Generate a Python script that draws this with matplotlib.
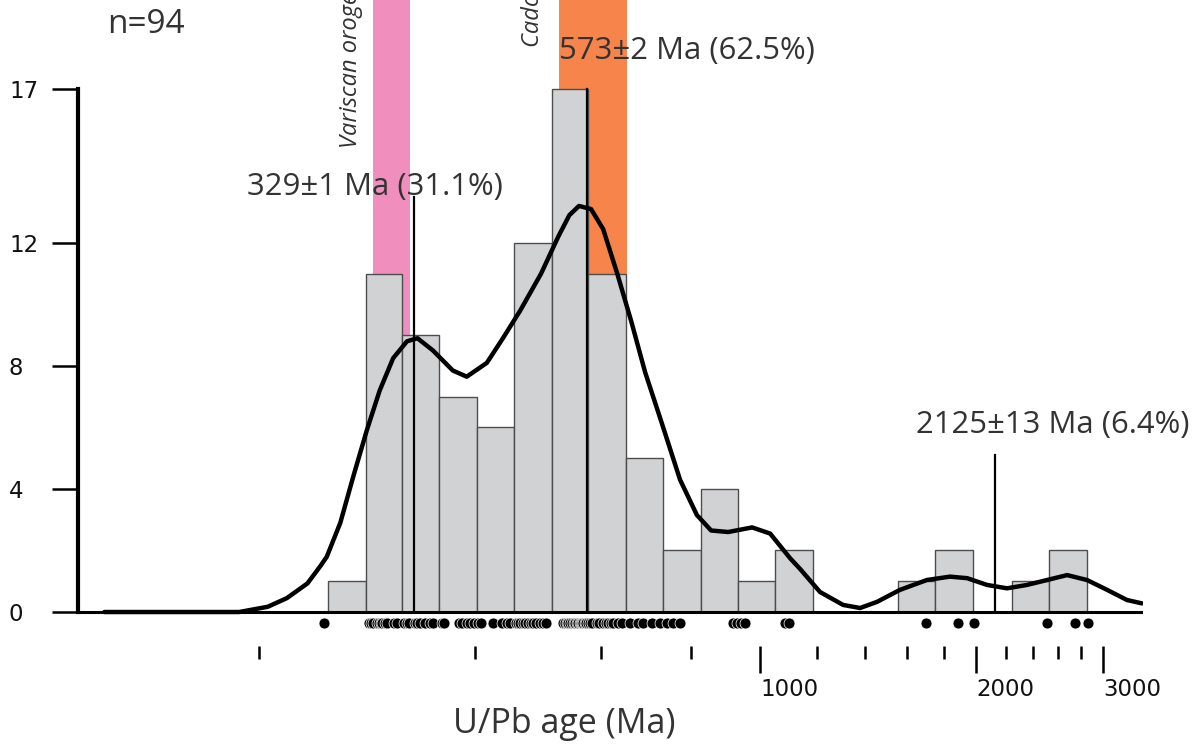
import matplotlib
matplotlib.use("Agg")
import matplotlib.pyplot as plt

# 直方圖 (Ma 區間邊界與個數)
bin_edges = [250, 282, 317, 357, 403, 454, 512, 576, 650, 732, 827, 932,
             1048, 1183, 1554, 1751, 1976, 2242, 2526, 2854]
counts = [1, 11, 9, 7, 6, 12, 17, 11, 5, 2, 4, 1, 2, 0, 1, 2, 0, 1, 2]

# 機率密度曲線
kde_age = [122, 188, 206, 219, 234, 244, 249, 260, 271, 283, 295, 308, 322,
           333, 350, 373, 390, 416, 438, 463, 495, 523, 542, 559, 581, 604,
           632, 661, 691, 730, 773, 816, 854, 902, 974, 1032, 1100, 1136,
           1211, 1304, 1377, 1454, 1565, 1706, 1837, 1941, 2069, 2206, 2352,
           2508, 2675, 2851, 3041, 3241, 3401]
kde_val = [0, 0, 0.17, 0.45, 0.93, 1.5, 1.8, 2.9, 4.4, 5.9, 7.2, 8.25, 8.8,
           8.9, 8.5, 7.85, 7.65, 8.1, 8.9, 9.8, 11.0, 12.2, 12.9, 13.2, 13.1,
           12.45, 11.0, 9.45, 7.8, 6.1, 4.3, 3.15, 2.65, 2.6, 2.75, 2.55,
           1.75, 1.4, 0.65, 0.23, 0.13, 0.33, 0.72, 1.04, 1.15, 1.1, 0.88,
           0.77, 0.88, 1.04, 1.2, 1.04, 0.72, 0.39, 0.28]

# 單顆鋯石年齡 (n=94)
ages = [247,
        285, 287, 289, 292, 294, 296, 297, 300, 302, 309, 312,
        319, 322, 324, 330, 332, 336, 341, 347, 350,
        360, 363, 381, 384, 390, 394, 399,
        404, 408, 424, 437, 444, 448,
        457, 460, 463, 467, 470, 475, 480, 483, 487, 494, 498, 503,
        531, 535, 538, 540, 543, 547, 550, 552, 556, 557, 560, 563, 565,
        566, 570, 572, 575,
        579, 583, 593, 596, 604, 610, 614, 620, 624, 634, 642,
        659, 676, 687, 707, 725,
        741, 756, 773, 916, 928, 940, 952, 1082, 1096,
        1701, 1885, 1984, 2508, 2744, 2861]

# 年齡峰值
peaks = [329, 573, 2125]
peak_tops = [13.5, 17, 5.1]
peak_labels = ["329±1 Ma (31.1%)", "573±2 Ma (62.5%)", "2125±13 Ma (6.4%)"]
label_pos = [(193, 13.55), (524, 17.98), (1648, 5.82)]

# 造山事件
bands = [(289, 325, "#f08fbd"), (524, 653, "#f7844a")]
band_names = ["Variscan orogeny", "Cadomian orogeny"]
band_text_pos = [(274, 15.08), (492, 18.37)]

major_ticks = [1000, 2000, 3000]
minor_ticks = [200, 400, 600, 800, 1200, 1400, 1600, 1800,
               2200, 2400, 2600, 2800]
y_ticks = [0, 4, 8, 12, 17]

plt.rcParams['font.family'] = ['DejaVu Sans']
txt_font = ['Open Sans', 'DejaVu Sans']
txt_col = "#333333"

y0, y1 = -1.105, 19.895

fig = plt.figure(figsize=(12.02, 7.54), dpi=100)
ax = fig.add_axes([78/1202, 108/754, 1065/1202, 646/754])
ax.set_xscale('log')
ax.set_xlim(112.1, 3412)
ax.set_ylim(y0, y1)

# 造山帶色塊 (由基線往上)
for (a, b, c) in bands:
    ax.axvspan(a, b, ymin=-y0 / (y1 - y0), ymax=1, color=c, lw=0, zorder=1)
for name, (x, y) in zip(band_names, band_text_pos):
    ax.text(x, y, name, rotation=90, rotation_mode='anchor', ha='left',
            va='baseline', fontsize=17, style='italic', family=txt_font,
            color=txt_col, zorder=5)

# 直方圖
lefts = [l for l, c in zip(bin_edges[:-1], counts) if c > 0]
rights = [r for r, c in zip(bin_edges[1:], counts) if c > 0]
hts = [c for c in counts if c > 0]
ax.bar(lefts, hts, width=[r - l for l, r in zip(lefts, rights)],
       align='edge', color="#d1d2d4", edgecolor="#4d4d4d", lw=1.0, zorder=2)

# 峰值線與標註
for p, t in zip(peaks, peak_tops):
    ax.plot([p, p], [0, t], color="black", lw=1.6, zorder=3)
for s, (x, y) in zip(peak_labels, label_pos):
    ax.text(x, y, s, fontsize=22.4, family=txt_font, color=txt_col,
            va='baseline', ha='left', zorder=5)

# 密度曲線
ax.plot(kde_age, kde_val, color="black", lw=3.2, solid_joinstyle='round',
        solid_capstyle='round', zorder=4)

# 基線
ax.axhline(0, color="black", lw=2.2, zorder=4)

# 年齡點
ax.scatter(ages, [-0.36] * len(ages), s=62, color="black",
           edgecolors="white", linewidths=0.5, zorder=5, clip_on=False)

ax.text(123, 18.82, "n=94", fontsize=24, family=txt_font, color=txt_col,
        va='baseline')
fig.text(453/1202, 21/754, "U/Pb age (Ma)", fontsize=24.5, family=txt_font,
         color=txt_col, va='baseline')

# 軸設定
for sp in ['top', 'right', 'bottom']:
    ax.spines[sp].set_visible(False)
ax.spines['left'].set_linewidth(3)
ax.spines['left'].set_bounds(0, 17)
ax.set_yticks(y_ticks)
ax.set_yticklabels([str(v) for v in y_ticks])
ax.tick_params(axis='y', length=18.7, width=1.8, pad=31, labelsize=16.5,
               labelcolor="#111111")
for lbl in ax.get_yticklabels():
    lbl.set_horizontalalignment('left')

ax.set_xticks(major_ticks)
ax.set_xticklabels([str(v) for v in major_ticks])
ax.set_xticks(minor_ticks, labels=[''] * len(minor_ticks), minor=True)
ax.tick_params(axis='x', which='major', length=19.4, width=1.8, pad=4,
               labelsize=16.5, labelcolor="#111111")
ax.tick_params(axis='x', which='minor', length=9.4, width=1.8)
for lbl in ax.get_xticklabels():
    lbl.set_horizontalalignment('left')

fig.savefig("out.png", dpi=100)
